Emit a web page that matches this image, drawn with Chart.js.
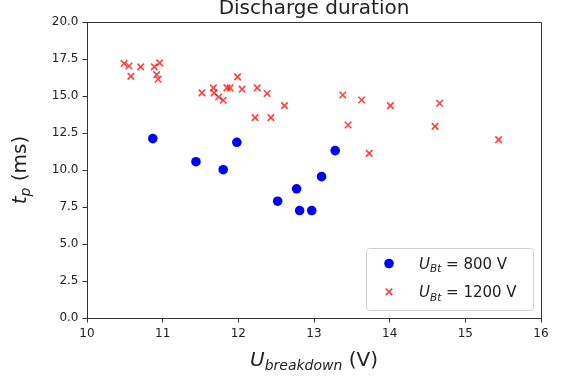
<!DOCTYPE html>
<html><head><meta charset="utf-8">
<script src="https://cdn.jsdelivr.net/npm/chart.js@4"></script>
<style>html,body{margin:0;padding:0;background:#fff}</style>
</head><body>
<canvas id="c" width="568" height="378"></canvas>
<script>
const chartTitle = 'Discharge duration';
const xTicks = [10, 11, 12, 13, 14, 15, 16];
const yTicks = [0, 2.5, 5, 7.5, 10, 12.5, 15, 17.5, 20];

// U_Bt = 800 V
const blueX = [10.87, 11.44, 11.80, 11.98, 12.52, 12.77, 12.81, 12.97, 13.10, 13.28];
const blueY = [12.12, 10.56, 10.02, 11.87, 7.89, 8.73, 7.26, 7.26, 9.55, 11.31];

// U_Bt = 1200 V
const redX = [10.49, 10.555, 10.58, 10.71, 10.89, 10.96, 10.92, 10.94, 11.52, 11.67, 11.68, 11.74, 11.80, 11.85, 11.89, 11.99, 12.05, 12.25, 12.38, 12.22, 12.43, 12.61, 13.38, 13.63, 14.01, 14.66, 13.45, 14.60, 15.44, 13.73];
const redY = [17.20, 17.03, 16.33, 16.97, 16.97, 17.24, 16.44, 16.13, 15.21, 15.55, 15.21, 14.93, 14.71, 15.55, 15.55, 16.29, 15.46, 15.55, 15.17, 13.54, 13.54, 14.35, 15.07, 14.73, 14.35, 14.51, 13.04, 12.95, 12.05, 11.12];

const FONT = '"DejaVu Sans", "Liberation Sans", sans-serif';

function toPts(xs, ys) { return xs.map((x, i) => ({ x: x, y: ys[i] })); }

// rich text: parts [{t, it, sub}]
function richWidth(ctx, parts, size) {
  let w = 0;
  for (const p of parts) {
    const s = p.sub ? size * 0.7 : size;
    ctx.font = (p.it ? 'italic ' : '') + s + 'px ' + FONT;
    w += ctx.measureText(p.t).width;
  }
  return w;
}
function drawRich(ctx, parts, x, y, size, align) {
  const w = richWidth(ctx, parts, size);
  let cx = align === 'center' ? x - w / 2 : x;
  ctx.textAlign = 'left';
  ctx.textBaseline = 'alphabetic';
  for (const p of parts) {
    const s = p.sub ? size * 0.7 : size;
    ctx.font = (p.it ? 'italic ' : '') + s + 'px ' + FONT;
    ctx.fillText(p.t, cx, y + (p.sub ? size * 0.22 : 0));
    cx += ctx.measureText(p.t).width;
  }
}

const xLabelParts = [{ t: 'U', it: true }, { t: 'breakdown', it: true, sub: true }, { t: ' (V)' }];
const yLabelParts = [{ t: 't', it: true }, { t: 'p', it: true, sub: true }, { t: ' (ms)' }];
const legendItems = [
  { parts: [{ t: 'U', it: true }, { t: 'Bt', it: true, sub: true }, { t: ' = 800 V' }], ds: 0 },
  { parts: [{ t: 'U', it: true }, { t: 'Bt', it: true, sub: true }, { t: ' = 1200 V' }], ds: 1 }
];

const decor = {
  id: 'decor',
  afterDraw(chart) {
    const ctx = chart.ctx, a = chart.chartArea;
    ctx.save();
    // top & right spines
    ctx.strokeStyle = '#333';
    ctx.lineWidth = 1;
    ctx.beginPath();
    ctx.moveTo(a.left, a.top + 0.5);
    ctx.lineTo(a.right + 0.5, a.top + 0.5);
    ctx.lineTo(a.right + 0.5, a.bottom);
    ctx.stroke();
    // title
    ctx.fillStyle = '#222';
    ctx.font = '20px ' + FONT;
    ctx.textAlign = 'center';
    ctx.textBaseline = 'alphabetic';
    ctx.fillText(chartTitle, (a.left + a.right) / 2, a.top - 8.5);
    // x label
    drawRich(ctx, xLabelParts, (a.left + a.right) / 2, a.bottom + 48, 20, 'center');
    // y label
    ctx.save();
    ctx.translate(a.left - 61, (a.top + a.bottom) / 2);
    ctx.rotate(-Math.PI / 2);
    drawRich(ctx, yLabelParts, 0, 0, 20, 'center');
    ctx.restore();
    // legend
    const bw = 167, bh = 62;
    const bx = a.right - 8 - bw, by = a.bottom - 8 - bh;
    ctx.fillStyle = 'rgba(255,255,255,0.8)';
    ctx.strokeStyle = '#d0d0d0';
    ctx.lineWidth = 1;
    ctx.beginPath();
    ctx.roundRect(bx + 0.5, by + 0.5, bw, bh, 3);
    ctx.fill();
    ctx.stroke();
    legendItems.forEach((it, i) => {
      const ds = chart.data.datasets[it.ds];
      const my = by + 15.5 + i * 28.4;
      ctx.fillStyle = ds.backgroundColor;
      ctx.strokeStyle = ds.borderColor;
      ctx.lineWidth = ds.borderWidth;
      Chart.helpers.drawPoint(ctx, { pointStyle: ds.pointStyle, radius: ds.pointRadius, rotation: 0, borderWidth: ds.borderWidth }, bx + 23, my);
      ctx.fillStyle = '#222';
      drawRich(ctx, it.parts, bx + 53, my + 5.5, 15, 'left');
    });
    ctx.restore();
  }
};

const tickFont = { family: FONT, size: 12 };

new Chart(document.getElementById('c'), {
  type: 'scatter',
  data: {
    datasets: [
      { label: 'U_Bt = 800 V', data: toPts(blueX, blueY), pointStyle: 'circle', pointRadius: 4.8, pointHoverRadius: 4.8,
        backgroundColor: '#0000ff', borderColor: '#0000ff', borderWidth: 0 },
      { label: 'U_Bt = 1200 V', data: toPts(redX, redY), pointStyle: 'crossRot', pointRadius: 4.6, pointHoverRadius: 4.6,
        backgroundColor: 'rgba(255,0,0,0.75)', borderColor: 'rgba(255,0,0,0.75)', borderWidth: 1.6 }
    ]
  },
  options: {
    responsive: false,
    animation: false,
    devicePixelRatio: 1,
    layout: { padding: { top: 22, right: 27, left: 0, bottom: 0 } },
    plugins: { legend: { display: false }, title: { display: false }, tooltip: { enabled: false } },
    scales: {
      x: {
        type: 'linear', min: 10, max: 16,
        afterBuildTicks: s => { s.ticks = xTicks.map(v => ({ value: v })); },
        afterFit: s => { s.height = 60; },
        ticks: { font: tickFont, color: '#222', padding: 4, callback: v => String(v) },
        grid: { drawOnChartArea: false, drawTicks: true, tickLength: 4.5, color: '#333', lineWidth: 1 },
        border: { display: true, color: '#333', width: 1 }
      },
      y: {
        type: 'linear', min: 0, max: 20,
        afterBuildTicks: s => { s.ticks = yTicks.map(v => ({ value: v })); },
        afterFit: s => { s.width = 87; },
        ticks: { font: tickFont, color: '#222', padding: 4, callback: v => Number(v).toFixed(1) },
        grid: { drawOnChartArea: false, drawTicks: true, tickLength: 4.5, color: '#333', lineWidth: 1 },
        border: { display: true, color: '#333', width: 1 }
      }
    }
  },
  plugins: [decor]
});
</script>
</body></html>
